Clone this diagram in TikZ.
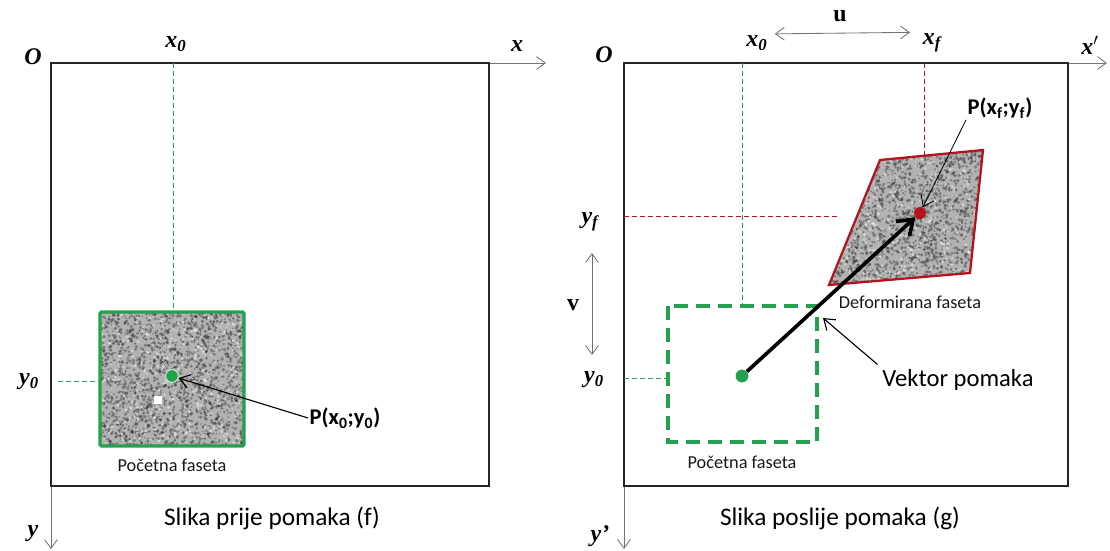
\documentclass[tikz,border=0pt]{standalone}
\usepackage{fontspec}
\setmainfont{Liberation Serif}
\newfontfamily\calfont{Carlito}
\usetikzlibrary{positioning,arrows.meta,calc}
\definecolor{grn}{HTML}{23A14D}
\definecolor{gline}{HTML}{2AA060}
\definecolor{rdd}{HTML}{B5121B}
\definecolor{grain}{gray}{0.7}
\definecolor{axgray}{gray}{0.45}
\newcommand\specks[4]{%
  \foreach \k in {1,...,1900}
    \fill[black!85, opacity=0.4] ({#1+#3*rnd},{#2+#4*rnd}) circle ({0.7+1.2*rnd});
  \foreach \k in {1,...,500}
    \fill[white, opacity=0.45] ({#1+#3*rnd},{#2+#4*rnd}) circle ({0.7+1*rnd});}
\tikzset{
  frm/.style={draw=black!85, line width=1.5pt},
  axs/.style={draw=axgray, line width=0.6pt, -{Straight Barb[length=2.2mm, width=3.2mm]}},
  dbl/.style={draw=axgray, line width=0.6pt, {Straight Barb[length=2.2mm, width=3.2mm]}-{Straight Barb[length=2.2mm, width=3.2mm]}},
  axl/.style={font=\fontsize{17}{19}\selectfont\bfseries\itshape, inner sep=1pt},
  gdash/.style={draw=gline, line width=0.6pt, dash pattern=on 1.2mm off 0.8mm},
  rdash/.style={draw=rdd, line width=0.6pt, dash pattern=on 1.2mm off 0.8mm},
  lbl/.style={font=\calfont\fontsize{13}{15}\selectfont, text=black!90, inner sep=1pt},
  plbl/.style={font=\calfont\fontsize{16}{18}\selectfont\bfseries, inner sep=1pt},
  captxt/.style={font=\calfont\fontsize{18}{20}\selectfont},
  dot/.style={circle, inner sep=0pt, minimum size=3.2mm},
  ptr/.style={draw=black, line width=0.8pt, -{Straight Barb[length=2.5mm, width=3.5mm]}},
  vec/.style={draw=black, line width=2.6pt, -{Straight Barb[length=3.5mm, width=5mm]}}}
\begin{document}
\begin{tikzpicture}[x=0.25mm, y=-0.25mm]
\useasboundingbox (0,0) rectangle (1110,550);
\pgfmathsetseed{42}
% slika prije pomaka
\coordinate (oL) at (51,63);
\coordinate (xL) at (546,63);
\coordinate (yL) at (51,549);
\draw[axs] (oL) -- (xL);
\draw[axs] (oL) -- (yL);
\draw[frm] (oL) rectangle (489,486);
\node[axl] (oLl) at (33,57) {O};
\node[axl] (xLl) at (517,46) {x};
\node[axl] (x0L) at (176,44) {x\textsubscript{0}};
\node[axl] (y0L) at (29,382) {y\textsubscript{0}};
\node[axl] (yLl) at (33,534) {y};
\draw[gdash] (173,63) -- (173,312);
\draw[gdash] (58,381) -- (100,381);
\begin{scope}
\clip (100,312) rectangle (244,446);
\fill[grain] (100,312) rectangle (244,446);
\specks{100}{312}{144}{134}
\end{scope}
\draw[grn, line width=2.2pt, rounded corners=1pt] (100,312) rectangle (244,446);
\fill[white] (154,396) rectangle (162,404);
\node[dot, fill=grn, draw=white!70!grn, line width=0.8pt] (g0) at (172,376) {};
\node[plbl] (p0) at (345,418) {P(x\textsubscript{0};y\textsubscript{0})};
\draw[ptr] (p0.west) -- (g0);
\node[lbl] (f0) at (172,465) {Početna faseta};
\node[captxt] (capL) at (272,518) {Slika prije pomaka (f)};
% slika poslije pomaka
\coordinate (oR) at (624,63);
\coordinate (xR) at (1107,63);
\coordinate (yR) at (624,549);
\draw[axs] (oR) -- (xR);
\draw[axs] (oR) -- (yR);
\draw[frm] (oR) rectangle (1068,486);
\node[axl] (oRl) at (604,55) {O};
\node[axl] (xRl) at (1090,45) {x$'$};
\node[axl] (yRl) at (600,536) {y’};
\node[axl] (x0R) at (757,43) {x\textsubscript{0}};
\node[axl] (xfR) at (932,43) {x\textsubscript{f}};
\node[axl, font=\fontsize{17}{19}\selectfont\bfseries] (uR) at (840,16) {u};
\node[axl] (yfR) at (590,222) {y\textsubscript{f}};
\node[axl] (y0R) at (594,380) {y\textsubscript{0}};
\node[axl, font=\fontsize{17}{19}\selectfont\bfseries] (vR) at (573,305) {v};
\draw[dbl, shorten <=4pt, shorten >=8pt] (x0R.north east) -- (xfR.north west);
\coordinate (vt) at (592,253);
\coordinate (vb) at (592,355);
\draw[dbl] (vt) -- (vb);
\draw[gdash] (742,63) -- (742,306);
\draw[rdash] (924,63) -- (924,158);
\draw[rdash] (624,216) -- (840,216);
\draw[gdash] (624,378) -- (668,378);
\draw[grn, line width=2.4pt, dash pattern=on 3.6mm off 1.9mm] (668,306) rectangle (817,442);
\begin{scope}
\clip (880,160) -- (983,150) -- (970,273) -- (829,285) -- cycle;
\fill[grain] (828,150) rectangle (984,286);
\specks{828}{150}{156}{136}
\end{scope}
\draw[rdd, line width=1.6pt] (880,160) -- (983,150) -- (970,273) -- (829,285) -- cycle;
\node[dot, fill=grn] (g1) at (742,376) {};
\node[dot, fill=rdd, minimum size=3mm] (r1) at (920,213) {};
\draw[vec] (g1) -- (r1);
\node[plbl] (pf) at (1000,108) {P(x\textsubscript{f};y\textsubscript{f})};
\draw[ptr, line width=0.6pt] (pf.south west) -- (r1);
\node[lbl] (df) at (910,302) {Deformirana faseta};
\node[captxt, font=\calfont\fontsize{17.5}{19}\selectfont] (vk) at (958,380) {Vektor pomaka};
\coordinate (vtip) at (823,318);
\draw[ptr] (vk.north west) -- (vtip);
\node[lbl] (f1) at (742,462) {Početna faseta};
\node[captxt] (capR) at (840,518) {Slika poslije pomaka (g)};
\end{tikzpicture}
\end{document}
